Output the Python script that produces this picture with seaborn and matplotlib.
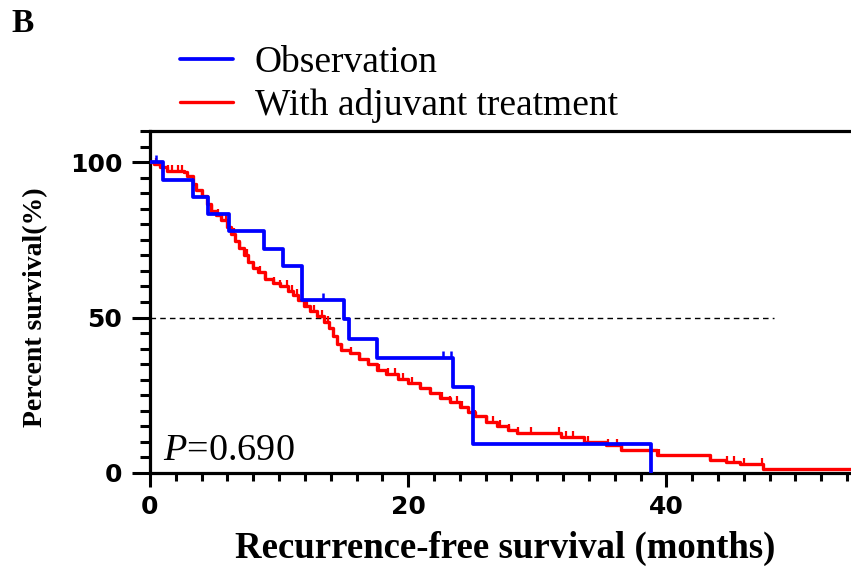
import numpy as np
import matplotlib
matplotlib.use("Agg")
import matplotlib.pyplot as plt
import matplotlib.path as mpath
import seaborn as sns

# ---------------- data ----------------
obs_time = [0, 1.0, 3.3, 4.5, 6.1, 8.8, 10.3, 11.8, 15.0, 15.4, 17.6, 23.5, 25.0, 38.8]
obs_surv = [100, 94.4, 88.9, 83.3, 77.8, 72.2, 66.7, 55.6, 49.4, 43.2, 37.0, 27.8, 9.3, 0]
obs_cens = [0.5, 13.4, 22.7, 23.3]

adj_time = [0, 0.3, 0.8, 1.3, 2.6, 2.9, 3.3, 3.6, 4.0, 4.4, 4.7, 5.1, 5.5, 6.0, 6.3,
            6.6, 6.9, 7.3, 7.6, 8.0, 8.4, 8.9, 9.5, 10.1, 10.7, 11.1, 11.5, 11.9,
            12.4, 12.9, 13.5, 13.9, 14.2, 14.5, 14.8, 15.5, 16.2, 16.9, 17.6, 18.3,
            19.2, 20.0, 20.9, 21.7, 22.5, 23.2, 24.0, 24.6, 25.2, 26.0, 26.9, 27.7,
            28.4, 31.8, 33.6, 35.3, 36.5, 39.3, 43.4, 44.6, 45.7, 47.5, 54.3]
adj_surv = [100, 99.5, 98.5, 97.2, 96.7, 95.5, 93.0, 91.0, 89.0, 86.5, 84.3, 83.0, 81.5,
            79.0, 77.0, 74.5, 72.5, 70.0, 68.0, 66.0, 64.5, 62.5, 61.2, 60.0, 58.5,
            57.2, 55.5, 53.8, 52.0, 50.4, 48.5, 46.5, 44.0, 41.5, 39.7, 38.5, 36.8,
            35.2, 33.0, 31.8, 30.3, 29.0, 27.3, 25.8, 24.1, 22.8, 21.2, 19.6, 18.2,
            16.5, 15.0, 13.8, 12.8, 11.7, 10.1, 9.0, 7.4, 5.8, 4.2, 3.6, 3.0, 1.2, 1.2]
adj_cens = [0.5, 1.4, 1.7, 2.2, 2.5, 3.6, 4.0, 4.8, 5.3, 5.6, 5.9, 6.5, 7.0, 7.5, 8.0,
            8.5, 8.9, 9.6, 10.1, 10.6, 11.0, 11.4, 12.2, 12.7, 13.3, 13.8, 14.9, 15.6,
            16.3, 16.9, 17.7, 18.4, 19.0, 19.6, 20.3, 20.9, 21.7, 22.6, 23.2, 23.8,
            24.2, 25.2, 26.1, 26.6, 27.1, 27.8, 28.5, 29.5, 31.7, 32.2, 32.8, 33.9,
            35.5, 36.2, 36.6, 39.4, 43.4, 44.7, 45.2, 46.0, 47.4]

series_labels = ["Observation", "With adjuvant treatment"]
x_ticks = [0, 20, 40]
y_ticks = [0, 50, 100]
p_text = "=0.690"

BLUE = "#0000ff"
RED = "#ff0000"

# ---------------- style ----------------
sns.set_style("ticks")
plt.rcParams["mathtext.fontset"] = "custom"
plt.rcParams["mathtext.rm"] = "Liberation Serif"
plt.rcParams["mathtext.it"] = "Liberation Serif:italic"
plt.rcParams["text.color"] = "black"
plt.rcParams["axes.labelcolor"] = "black"
plt.rcParams["xtick.color"] = "black"
plt.rcParams["ytick.color"] = "black"

W, H = 851, 568
fig = plt.figure(figsize=(W / 100, H / 100), dpi=100)
ax = fig.add_axes([150 / W, 95 / H, 1 - 150 / W, 342 / H])


def surv_at(times, surv, t):
    idx = np.searchsorted(np.asarray(times), np.asarray(t), side="right") - 1
    return np.asarray(surv)[idx]


# dashed median line
ax.plot([0, 48.3], [50, 50], ls=(0, (4, 3)), color="black", lw=1.0, zorder=1)

# curves
sns.lineplot(x=adj_time, y=adj_surv, drawstyle="steps-post", estimator=None, sort=False,
             color=RED, lw=2.4, ax=ax, label=series_labels[1], zorder=3)
sns.lineplot(x=obs_time, y=obs_surv, drawstyle="steps-post", estimator=None, sort=False,
             color=BLUE, lw=2.7, ax=ax, label=series_labels[0], zorder=4)

# censor marks (upward ticks)
tick_mark = mpath.Path([(0, 0), (0, 1)], [mpath.Path.MOVETO, mpath.Path.LINETO])
ax.plot(adj_cens, surv_at(adj_time, adj_surv, adj_cens), ls="none", marker=tick_mark,
        markersize=9, mew=1.6, color=RED, zorder=3)
ax.plot(obs_cens, surv_at(obs_time, obs_surv, obs_cens), ls="none", marker=tick_mark,
        markersize=10, mew=1.8, color=BLUE, zorder=4)

# axes limits / spines
ax.set_xlim(0, 54.3)
ax.set_ylim(0, 110)
for s in ["left", "bottom", "top"]:
    ax.spines[s].set_linewidth(2.3)
    ax.spines[s].set_color("black")
ax.spines["right"].set_visible(False)

ax.set_xticks(x_ticks)
ax.set_yticks(y_ticks)
ax.set_xticks(np.arange(0, 55, 2), minor=True)
ax.set_yticks(np.arange(0, 111, 5), minor=True)
ax.tick_params(axis="y", which="major", length=13, width=2.2, pad=7, direction="out")
ax.tick_params(axis="y", which="minor", length=7, width=2.2, direction="out")
ax.tick_params(axis="x", which="major", length=10, width=2.2, pad=6, direction="out")
ax.tick_params(axis="x", which="minor", length=6, width=2.2, direction="out")
for lab in ax.get_xticklabels() + ax.get_yticklabels():
    lab.set_fontfamily("DejaVu Sans")
    lab.set_fontweight("bold")
    lab.set_fontsize(18)
    lab.set_color("black")

ax.set_xlabel("Recurrence-free survival (months)", fontfamily="Liberation Serif",
              fontweight="bold", fontsize=26.5, color="black")
ax.set_ylabel("Percent survival(%)", fontfamily="Liberation Serif",
              fontweight="bold", fontsize=20, color="black")
ax.xaxis.set_label_coords(0.506, -0.17)
ax.yaxis.set_label_coords(-0.145, 0.485)

# P value
ax.text(1.0, 4.2, r"$\mathit{P}$" + p_text, fontfamily="Liberation Serif", fontsize=27.5,
        ha="left", va="baseline", color="black")

# legend
ax.get_legend().remove()
handles = [ax.lines[2], ax.lines[1]]
leg = fig.legend(handles, series_labels, loc="upper left", bbox_to_anchor=(180 / W, 1 - 46 / H),
                 frameon=False, prop={"family": "Liberation Serif", "size": 27},
                 handlelength=1.4, handletextpad=0.6, labelspacing=0.2,
                 borderpad=0, borderaxespad=0)
for t in leg.get_texts():
    t.set_color("black")

# panel letter
fig.text(11 / W, 1 - 32 / H, "B", fontfamily="Liberation Serif", fontweight="bold",
         fontsize=24, ha="left", va="baseline", color="black")

fig.savefig("out.png", dpi=100)
